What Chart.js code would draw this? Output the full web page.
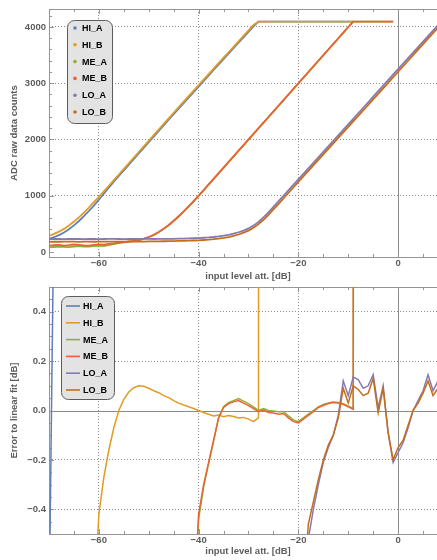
<!DOCTYPE html>
<html>
<head>
<meta charset="utf-8">
<script src="https://cdn.jsdelivr.net/npm/chart.js@4"></script>
<style>
  html, body { margin: 0; padding: 0; background: #fff; overflow: hidden; width: 437px; height: 560px; }
  canvas { position: absolute; left: 0; }
  #adcChart { top: 0; }
  #errChart { top: 280px; }
</style>
</head>
<body>
<canvas id="adcChart" width="447" height="285"></canvas>
<canvas id="errChart" width="447" height="280"></canvas>
<script>
// input level grid, dB
const levels = [
  -70, -69, -68, -67, -66, -65, -64, -63, -62, -61,
  -60, -59, -58, -57, -56, -55, -54, -53, -52, -51,
  -50, -49, -48, -47, -46, -45, -44, -43, -42, -41,
  -40, -39, -38, -37, -36, -35, -34, -33, -32, -31,
  -30, -29, -28, -27, -26, -25, -24, -23, -22, -21,
  -20, -19, -18, -17, -16, -15, -14, -13, -12, -11,
  -10, -9, -8, -7, -6, -5, -4, -3, -2, -1,
  0, 1, 2, 3, 4, 5, 6, 7, 8
];

const names = ['HI_A', 'HI_B', 'ME_A', 'ME_B', 'LO_A', 'LO_B'];
const colors = ['#5e81b5', '#e19c24', '#8fb032', '#eb6235', '#8778b3', '#c56e1a'];

// tick labels
const levelTicks = [-60, -40, -20, 0];
const adcTicks = [0, 1000, 2000, 3000, 4000];
const errTicks = [-0.4, -0.2, 0, 0.2, 0.4];

// ADC raw data counts
const adcHiA = [
  230, 262, 300, 347, 405, 473, 550, 635, 728, 825,
  928, 1035, 1145, 1250, 1352, 1452, 1552, 1652, 1752, 1852,
  1952, 2052, 2152, 2252, 2351, 2450, 2549, 2647, 2745, 2843,
  2941, 3039, 3137, 3235, 3332, 3429, 3526, 3623, 3720, 3817,
  3914, 4011, 4095, 4095, 4095, 4095, 4095, 4095, 4095, 4095,
  4095, 4095, 4095, 4095, 4095, 4095, 4095, 4095, 4095, 4095,
  4095, 4095
];
const adcHiB = [
  285, 320, 360, 410, 470, 540, 615, 700, 790, 885,
  980, 1078, 1177, 1277, 1377, 1477, 1577, 1677, 1777, 1877,
  1977, 2077, 2177, 2277, 2376, 2475, 2574, 2672, 2770, 2868,
  2966, 3064, 3162, 3260, 3357, 3454, 3551, 3648, 3745, 3842,
  3939, 4036, 4095, 4095, 4095, 4095, 4095, 4095, 4095, 4095,
  4095, 4095, 4095, 4095, 4095, 4095, 4095, 4095, 4095, 4095,
  4095, 4095
];
const adcMeA = [
  82, 88, 95, 90, 86, 96, 102, 93, 96, 102,
  112, 106, 122, 138, 156, 170, 181, 192, 208, 232,
  262, 300, 350, 410, 475, 550, 630, 715, 805, 900,
  995, 1095, 1195, 1295, 1395, 1495, 1595, 1695, 1795, 1895,
  1995, 2095, 2195, 2295, 2395, 2495, 2595, 2695, 2795, 2895,
  2995, 3095, 3195, 3295, 3395, 3495, 3595, 3695, 3795, 3895,
  3995, 4095, 4095, 4095, 4095, 4095, 4095, 4095, 4095, 4095
];
const adcMeB = [
  110, 122, 126, 114, 120, 132, 125, 116, 112, 126,
  136, 130, 142, 152, 166, 176, 186, 196, 212, 236,
  266, 305, 355, 415, 480, 555, 635, 720, 810, 905,
  1000, 1100, 1200, 1300, 1400, 1500, 1600, 1700, 1800, 1900,
  2000, 2100, 2200, 2300, 2400, 2500, 2600, 2700, 2800, 2900,
  3000, 3100, 3200, 3300, 3400, 3500, 3600, 3700, 3800, 3900,
  4000, 4095, 4095, 4095, 4095, 4095, 4095, 4095, 4095, 4095
];
const adcLoA = [
  228, 230, 231, 229, 230, 232, 230, 229, 231, 230,
  229, 230, 232, 231, 230, 229, 230, 231, 230, 232,
  231, 230, 231, 232, 233, 234, 236, 238, 240, 243,
  247, 252, 258, 266, 276, 289, 305, 325, 350, 380,
  418, 468, 535, 615, 705, 800, 898, 996, 1095, 1193,
  1290, 1388, 1486, 1584, 1682, 1780, 1878, 1976, 2074, 2172,
  2270, 2368, 2466, 2564, 2662, 2760, 2858, 2956, 3054, 3152,
  3250, 3348, 3446, 3544, 3642, 3740, 3838, 3936, 4034
];
const adcLoB = [
  180, 183, 181, 182, 184, 182, 180, 183, 182, 181,
  183, 184, 182, 183, 185, 184, 183, 185, 186, 185,
  187, 188, 189, 190, 191, 193, 195, 197, 200, 203,
  207, 212, 218, 226, 236, 249, 265, 285, 310, 342,
  380, 430, 495, 572, 660, 755, 852, 950, 1048, 1146,
  1244, 1342, 1440, 1538, 1636, 1734, 1832, 1930, 2028, 2126,
  2224, 2322, 2420, 2518, 2616, 2714, 2812, 2910, 3008, 3106,
  3204, 3302, 3400, 3498, 3596, 3694, 3792, 3890, 3988
];

// error to linear fit, dB
const errHiA = [-0.85, 0.85, 3];
const errHiB = [
  null, null, null, null, null, null, null, null, null, -0.8,
  -0.42, -0.27, -0.16, -0.07, 0.0, 0.045, 0.075, 0.092, 0.1, 0.098,
  0.09, 0.08, 0.072, 0.06, 0.052, 0.04, 0.03, 0.022, 0.015, 0.008,
  0.0, -0.008, -0.015, -0.022, -0.018, -0.025, -0.02, -0.024, -0.03, -0.028,
  -0.035, -0.045, -0.03, 40
];
const errMeA = [
  null, null, null, null, null, null, null, null, null, null,
  null, null, null, null, null, null, null, null, null, null,
  null, null, null, null, null, null, null, null, null, -0.82,
  -0.44, -0.31, -0.215, -0.125, -0.03, 0.015, 0.032, 0.04, 0.048, 0.038,
  0.028, 0.015, 0.0, 0.008, 0.0, -0.002, -0.005, -0.004, -0.022, -0.038,
  -0.045, -0.03, -0.015, 0.0, 0.015, 0.024, 0.03, 0.034, 0.032, 0.027,
  0.018, 0.008, 40
];
const errMeB = [
  null, null, null, null, null, null, null, null, null, null,
  null, null, null, null, null, null, null, null, null, null,
  null, null, null, null, null, null, null, null, null, -0.8,
  -0.42, -0.3, -0.21, -0.12, -0.03, 0.012, 0.028, 0.035, 0.04, 0.03,
  0.02, 0.008, -0.005, 0.002, -0.008, -0.01, -0.015, -0.012, -0.03, -0.045,
  -0.05, -0.035, -0.02, -0.005, 0.012, 0.02, 0.028, 0.032, 0.03, 0.025,
  0.015, 0.005, 40
];
const errLoA = [
  null, null, null, null, null, null, null, null, null, null,
  null, null, null, null, null, null, null, null, null, null,
  null, null, null, null, null, null, null, null, null, null,
  null, null, null, null, null, null, null, null, null, null,
  null, null, null, null, null, null, null, null, null, null,
  null, -0.82, -0.52, -0.4, -0.3, -0.21, -0.15, -0.1, -0.02, 0.12,
  0.06, 0.135, 0.125, 0.09, 0.1, 0.145, 0.01, 0.1, -0.09, -0.21,
  -0.17, -0.13, -0.07, 0.0, 0.04, 0.08, 0.145, 0.08, 0.12
];
const errLoB = [
  null, null, null, null, null, null, null, null, null, null,
  null, null, null, null, null, null, null, null, null, null,
  null, null, null, null, null, null, null, null, null, null,
  null, null, null, null, null, null, null, null, null, null,
  null, null, null, null, null, null, null, null, null, null,
  null, -0.75, -0.46, -0.37, -0.28, -0.2, -0.14, -0.1, -0.03, 0.09,
  0.03, 0.1, 0.085, 0.06, 0.07, 0.13, -0.01, 0.09, -0.09, -0.2,
  -0.15, -0.12, -0.06, 0.0, 0.03, 0.07, 0.12, 0.06, 0.09
];

const FONT = "'Liberation Sans', Arial, sans-serif";
const textColor = '#5c5c5c';
const gridColor = '#8a8a8a';
const frameColor = '#959595';
Chart.defaults.font.family = FONT;

function minusLabel(v, digits) {
  const s = Math.abs(v).toFixed(digits);
  return (v < -1e-9 ? '\u2212' : '') + s;
}

function series(values) {
  return values.map((v, i) => ({ x: levels[i], y: v }));
}

function makeDatasets(list, width) {
  return list.map((values, i) => ({
    label: names[i],
    data: series(values),
    borderColor: colors[i],
    backgroundColor: colors[i],
    borderWidth: width,
    pointRadius: 0,
    tension: 0,
    spanGaps: false,
    order: list.length - i
  }));
}

// Mathematica-like frame: inward ticks, axis lines through zero
const framePlugin = {
  id: 'frame',
  beforeDatasetsDraw(chart, args, opts) {
    const { ctx, chartArea: a, scales: { x, y } } = chart;
    ctx.save();
    ctx.lineWidth = 1;
    ctx.strokeStyle = '#8a8a8a';
    ctx.beginPath();
    const x0 = Math.round(x.getPixelForValue(0)) + 0.5;
    ctx.moveTo(x0, a.top);
    ctx.lineTo(x0, a.bottom);
    if (opts.zeroLine) {
      const y0 = Math.round(y.getPixelForValue(0)) + 0.5;
      ctx.moveTo(a.left, y0);
      ctx.lineTo(a.right, y0);
    }
    ctx.stroke();

    ctx.strokeStyle = frameColor;
    ctx.strokeRect(a.left + 0.5, a.top + 0.5, a.right - a.left - 1, a.bottom - a.top);

    ctx.beginPath();
    for (let k = Math.ceil(x.min / 5); k * 5 <= x.max; k++) {
      const v = k * 5;
      const len = v % 20 === 0 ? 5 : 3;
      const px = Math.round(x.getPixelForValue(v)) + 0.5;
      ctx.moveTo(px, a.bottom);
      ctx.lineTo(px, a.bottom - len);
      ctx.moveTo(px, a.top);
      ctx.lineTo(px, a.top + len);
    }
    const ratio = Math.round(opts.yMajor / opts.yMinor);
    for (let k = Math.ceil(y.min / opts.yMinor - 1e-9); k * opts.yMinor <= y.max + 1e-9; k++) {
      const len = k % ratio === 0 ? 5 : 3;
      const py = Math.round(y.getPixelForValue(k * opts.yMinor)) + 0.5;
      ctx.moveTo(a.left, py);
      ctx.lineTo(a.left + len, py);
    }
    ctx.stroke();
    ctx.restore();
  }
};

const boxLegend = {
  id: 'boxLegend',
  afterDatasetsDraw(chart, args, o) {
    const ctx = chart.ctx;
    const r = 7, x = o.x + 0.5, y = o.y + 0.5, w = o.w, h = o.h;
    ctx.save();
    ctx.beginPath();
    ctx.moveTo(x + r, y);
    ctx.arcTo(x + w, y, x + w, y + h, r);
    ctx.arcTo(x + w, y + h, x, y + h, r);
    ctx.arcTo(x, y + h, x, y, r);
    ctx.arcTo(x, y, x + w, y, r);
    ctx.closePath();
    ctx.fillStyle = '#e3e3e3';
    ctx.fill();
    ctx.strokeStyle = '#5c5c5c';
    ctx.lineWidth = 1;
    ctx.stroke();
    ctx.font = 'bold 9px ' + FONT;
    ctx.textBaseline = 'middle';
    ctx.textAlign = 'left';
    names.forEach((name, i) => {
      const yy = o.y + o.first + i * o.step;
      ctx.fillStyle = colors[i];
      ctx.strokeStyle = colors[i];
      if (o.marker === 'dot') {
        ctx.beginPath();
        ctx.arc(o.x + o.markX, yy, 1.8, 0, Math.PI * 2);
        ctx.fill();
      } else {
        ctx.lineWidth = 1.6;
        ctx.beginPath();
        ctx.moveTo(o.x + o.markX, yy);
        ctx.lineTo(o.x + o.markX + 14, yy);
        ctx.stroke();
      }
      ctx.fillStyle = '#000';
      ctx.fillText(name, o.x + o.textX, yy + 0.5);
    });
    ctx.restore();
  }
};

function makeOptions(cfg) {
  return {
    responsive: false,
    animation: false,
    devicePixelRatio: 1,
    layout: { padding: { top: cfg.padTop, right: 0, bottom: 0, left: 0 } },
    plugins: {
      legend: { display: false },
      tooltip: { enabled: false },
      frame: { zeroLine: cfg.zeroLine, yMajor: cfg.yStep, yMinor: cfg.yMinor },
      boxLegend: cfg.legend
    },
    scales: {
      x: {
        type: 'linear',
        min: -70,
        max: 9.8,
        afterFit(s) { s.height = cfg.xHeight; s.paddingLeft = 0; s.paddingRight = 0; },
        afterBuildTicks(s) { s.ticks = levelTicks.map(v => ({ value: v })); },
        ticks: {
          padding: 1,
          color: textColor,
          font: { size: 9.5, weight: 'bold' },
          callback: v => minusLabel(v, 0)
        },
        grid: {
          drawTicks: false,
          color: c => (c.tick && c.tick.value !== 0 ? gridColor : 'transparent')
        },
        border: { display: false, dash: [1, 2] },
        title: {
          display: true,
          text: 'input level att. [dB]',
          color: textColor,
          font: { size: 9.5, weight: 'bold' },
          padding: { top: 0, bottom: 3 }
        }
      },
      y: {
        type: 'linear',
        min: cfg.yMin,
        max: cfg.yMax,
        afterFit(s) { s.width = 49; s.paddingTop = 0; s.paddingBottom = 0; },
        afterBuildTicks(s) { s.ticks = cfg.yTicks.map(v => ({ value: v })); },
        ticks: {
          padding: 3,
          color: textColor,
          font: { size: 9.5, weight: 'bold' },
          callback: v => minusLabel(v, cfg.yDigits)
        },
        grid: {
          drawTicks: false,
          color: c => (c.tick && Math.abs(c.tick.value) > 1e-9 ? gridColor : 'transparent')
        },
        border: { display: false, dash: [1, 2] },
        title: {
          display: true,
          text: cfg.yTitle,
          color: textColor,
          font: { size: 9.5, weight: 'bold' },
          padding: { top: 9, bottom: 0 }
        }
      }
    }
  };
}

function ShowAdcChart() {
  new Chart(document.getElementById('adcChart'), {
    type: 'line',
    data: { datasets: makeDatasets([adcHiA, adcHiB, adcMeA, adcMeB, adcLoA, adcLoB], 1.8) },
    options: makeOptions({
      padTop: 9, xHeight: 28, zeroLine: false,
      yMin: -90, yMax: 4320, yTicks: adcTicks, yStep: 1000, yMinor: 200, yDigits: 0,
      yTitle: 'ADC raw data counts',
      legend: { x: 67, y: 20, w: 45, h: 103, first: 8, step: 16.8, marker: 'dot', markX: 8, textX: 15 }
    }),
    plugins: [framePlugin, boxLegend]
  });
}

function ShowErrChart() {
  new Chart(document.getElementById('errChart'), {
    type: 'line',
    data: { datasets: makeDatasets([errHiA, errHiB, errMeA, errMeB, errLoA, errLoB], 1.5) },
    options: makeOptions({
      padTop: 7, xHeight: 26, zeroLine: true,
      yMin: -0.5, yMax: 0.5, yTicks: errTicks, yStep: 0.2, yMinor: 0.05, yDigits: 1,
      yTitle: 'Error to linear fit [dB]',
      legend: { x: 61, y: 16, w: 53, h: 103, first: 10, step: 16.8, marker: 'line', markX: 5, textX: 22 }
    }),
    plugins: [framePlugin, boxLegend]
  });
}

window.addEventListener('load', () => {
  ShowAdcChart();
  ShowErrChart();
});
</script>
</body>
</html>
